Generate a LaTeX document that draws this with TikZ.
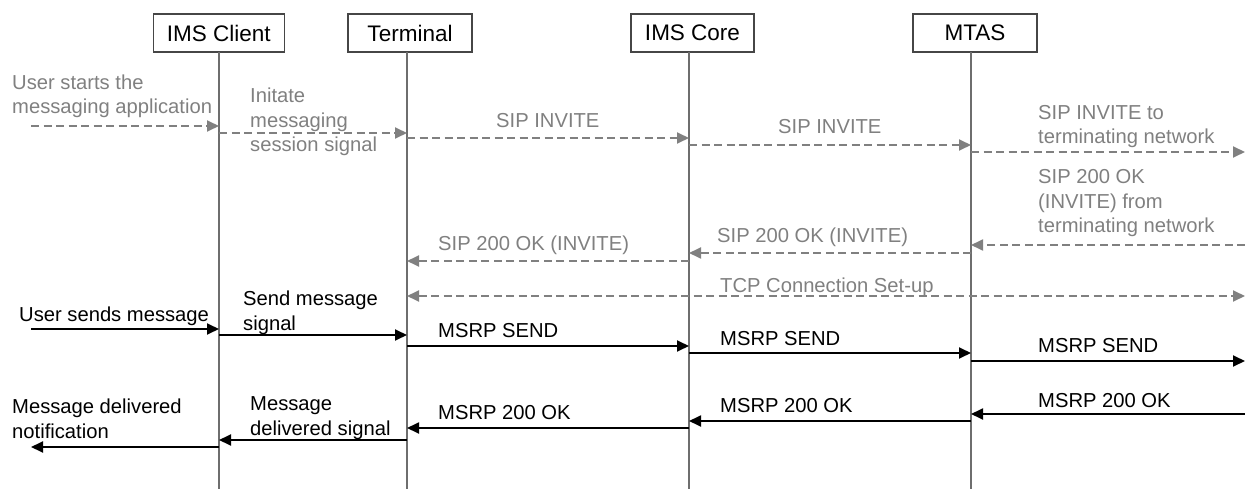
\documentclass[tikz,border=0pt]{standalone}
\usepackage{fontspec}
\setmainfont{Liberation Sans}
\usetikzlibrary{arrows.meta}
\definecolor{sgray}{RGB}{128,128,128}
\definecolor{lgray}{RGB}{110,110,110}
\definecolor{boxc}{RGB}{70,70,70}
\begin{document}
\begin{tikzpicture}[x=1pt,y=-1pt,
  ent/.style={draw=boxc, line width=1.2pt, minimum height=38pt, inner sep=0pt, fill=white, font=\fontsize{22.5}{26}\selectfont},
  life/.style={draw=lgray, line width=1.2pt},
  sig/.style={draw=sgray, line width=1.8pt, dash pattern=on 8pt off 4.5pt, -{Triangle[length=12pt,width=11pt]}},
  sigb/.style={sig, {Triangle[length=12pt,width=11pt]}-{Triangle[length=12pt,width=11pt]}},
  msg/.style={draw=black, line width=1.8pt, -{Triangle[length=12pt,width=11pt]}},
  glab/.style={text=sgray, anchor=base west, inner sep=0pt, align=left, font=\fontsize{20.2}{24.5}\selectfont},
  blab/.style={glab, text=black}]
\useasboundingbox (0,0) rectangle (1245,489);
% entities
\node[ent, minimum width=131pt] (ic) at (218.7,33) {IMS Client};
\node[ent, minimum width=124pt] (tm) at (410,33) {Terminal};
\node[ent, minimum width=123pt] (co) at (692.5,33) {IMS Core};
\node[ent, minimum width=124pt] (mt) at (975,33) {MTAS};
% lifeline coordinates
\coordinate (ict) at (219,52);   \coordinate (icb) at (219,489);
\coordinate (tmt) at (407,52);   \coordinate (tmb) at (407,489);
\coordinate (cot) at (689,52);   \coordinate (cob) at (689,489);
\coordinate (mtt) at (971,52);   \coordinate (mtb) at (971,489);
\coordinate (lft) at (31,0);     \coordinate (rgt) at (1245,0);
\draw[life] (ict) -- (icb);
\draw[life] (tmt) -- (tmb);
\draw[life] (cot) -- (cob);
\draw[life] (mtt) -- (mtb);
% SIP signalling (gray, dashed)
\draw[sig] (lft |- 0,126) -- (ict |- 0,126);
\draw[sig] (ict |- 0,133) -- (tmt |- 0,133);
\draw[sig] (tmt |- 0,138) -- (cot |- 0,138);
\draw[sig] (cot |- 0,145) -- (mtt |- 0,145);
\draw[sig] (mtt |- 0,152) -- (rgt |- 0,152);
\draw[sig] (rgt |- 0,245) -- (mtt |- 0,245);
\draw[sig] (mtt |- 0,253) -- (cot |- 0,253);
\draw[sig] (cot |- 0,261) -- (tmt |- 0,261);
\draw[sigb] (tmt |- 0,296) -- (rgt |- 0,296);
\node[glab] (l1) at (12,114) {User starts the\\messaging application};
\node[glab] (l2) at (250,152) {Initate\\messaging\\session signal};
\node[glab] (l3) at (496,128) {SIP INVITE};
\node[glab] (l4) at (778,134) {SIP INVITE};
\node[glab] (l5) at (1038,144) {SIP INVITE to\\terminating network};
\node[glab] (l6) at (1038,233) {SIP 200 OK\\(INVITE) from\\terminating network};
\node[glab] (l7) at (717,243) {SIP 200 OK (INVITE)};
\node[glab] (l8) at (438,251) {SIP 200 OK (INVITE)};
\node[glab] (l9) at (720,292) {TCP Connection Set-up};
% MSRP (black)
\draw[msg] (lft |- 0,329) -- (ict |- 0,329);
\draw[msg] (ict |- 0,335) -- (tmt |- 0,335);
\draw[msg] (tmt |- 0,346) -- (cot |- 0,346);
\draw[msg] (cot |- 0,353) -- (mtt |- 0,353);
\draw[msg] (mtt |- 0,361) -- (rgt |- 0,361);
\draw[msg] (rgt |- 0,414) -- (mtt |- 0,414);
\draw[msg] (mtt |- 0,421) -- (cot |- 0,421);
\draw[msg] (cot |- 0,428) -- (tmt |- 0,428);
\draw[msg] (tmt |- 0,440) -- (ict |- 0,440);
\draw[msg] (ict |- 0,447) -- (lft |- 0,447);
\node[blab] (m1) at (19,321) {User sends message};
\node[blab] (m2) at (243,330) {Send message\\signal};
\node[blab] (m3) at (438,337) {MSRP SEND};
\node[blab] (m4) at (720,345) {MSRP SEND};
\node[blab] (m5) at (1038,352) {MSRP SEND};
\node[blab] (m6) at (1038,407) {MSRP 200 OK};
\node[blab] (m7) at (720,412) {MSRP 200 OK};
\node[blab] (m8) at (438,419) {MSRP 200 OK};
\node[blab] (m9) at (250,435) {Message\\delivered signal};
\node[blab] (m10) at (12,438) {Message delivered\\notification};
\end{tikzpicture}
\end{document}
